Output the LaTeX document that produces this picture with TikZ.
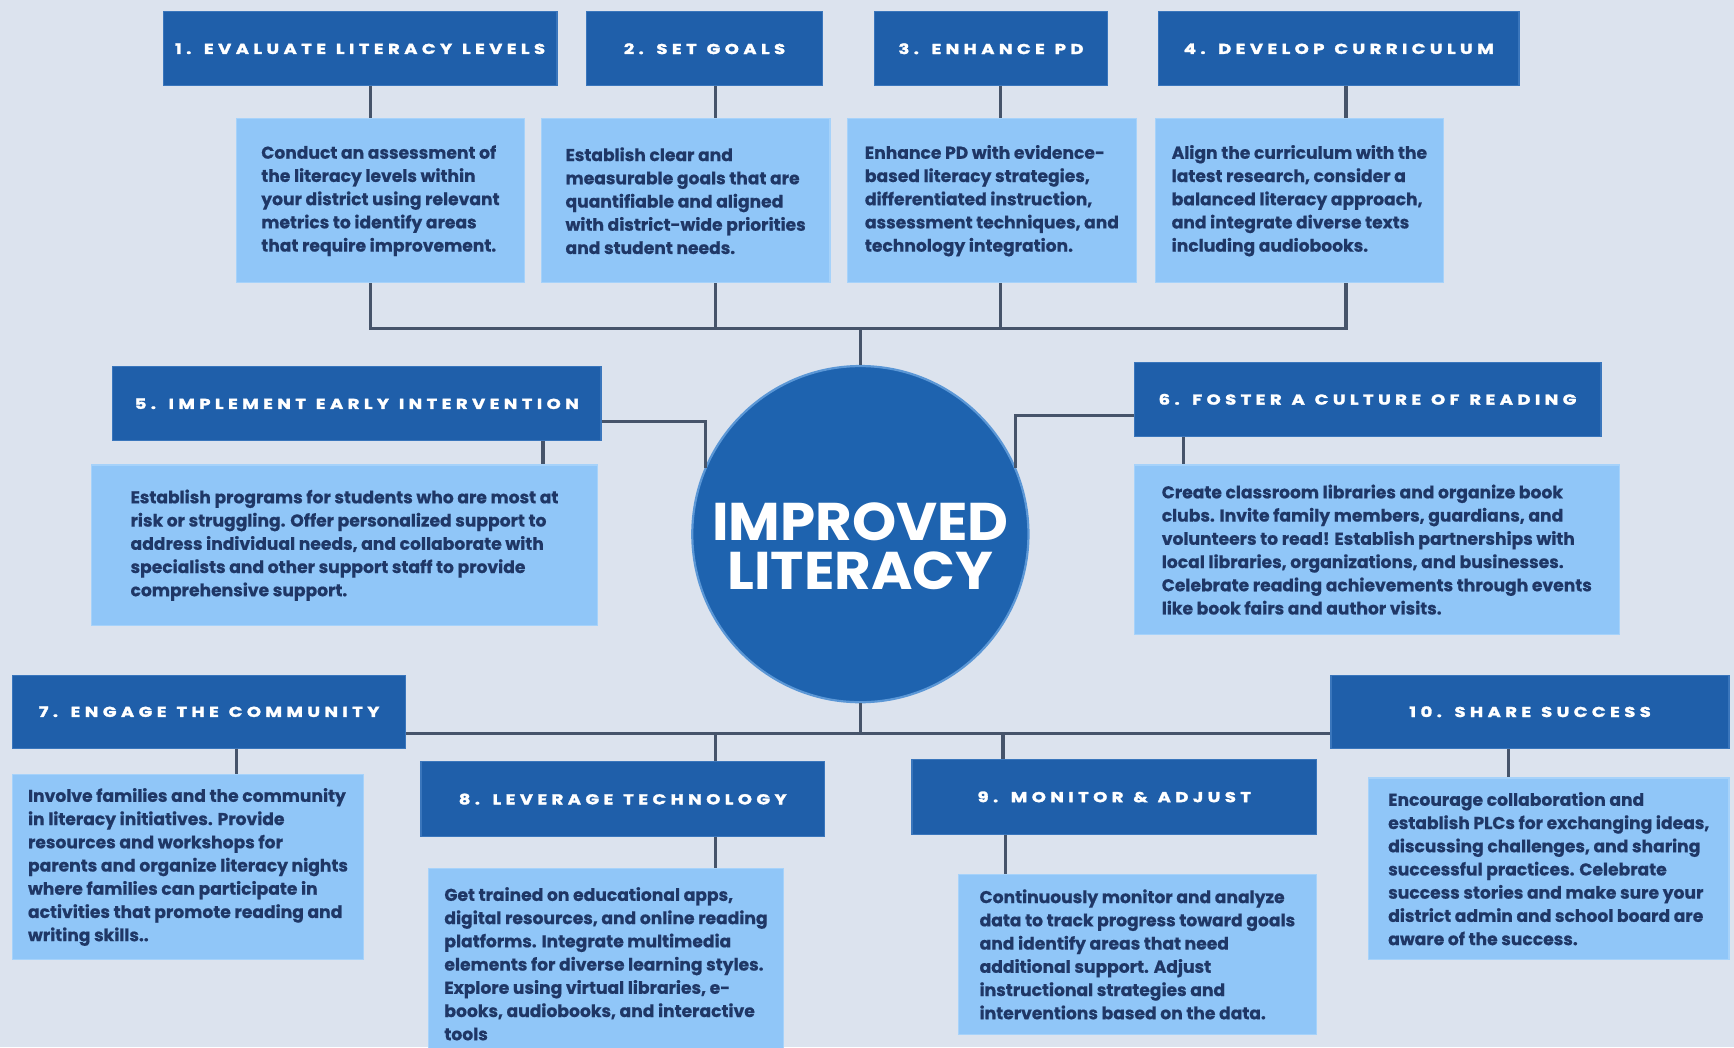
\documentclass[tikz,border=0pt]{standalone}
\usepackage{fontspec}
\setmainfont{Poppins}
\newfontfamily\hdrfont{Poppins}[UprightFont=* Bold, LetterSpace=31, WordSpace=1.2, FakeBold=2, FakeStretch=1.25]
\newfontfamily\bodyfont{Poppins}[UprightFont=* Bold, FakeBold=0.6]
\newfontfamily\circfont{Poppins}[UprightFont=* Bold, FakeStretch=1.06]
\definecolor{bg}{HTML}{DCE3EE}
\definecolor{hdrblue}{HTML}{1F5FAA}
\definecolor{hdredge}{HTML}{3A76BC}
\definecolor{bodyblue}{HTML}{90C6F8}
\definecolor{bodyedge}{HTML}{A6D2FA}
\definecolor{navy}{HTML}{1F3766}
\definecolor{linegray}{HTML}{46546A}
\definecolor{circblue}{HTML}{1E63AF}
\definecolor{circedge}{HTML}{5B97D6}
\begin{document}
\begin{tikzpicture}[x=1pt,y=-1pt,
  hdr/.style={fill=hdrblue, draw=hdredge, line width=1.2pt, anchor=north west, inner sep=0pt,
    text=white, font=\hdrfont\fontsize{13}{16}\selectfont},
  body/.style={fill=bodyblue, draw=bodyedge, line width=1pt, anchor=north west, inner sep=0pt,
    align=left, text=navy, font=\bodyfont\fontsize{15.5}{21}\selectfont},
  link/.style={draw=linegray, line width=3pt}]
\fill[bg] (0,0) rectangle (1568,947);
\useasboundingbox (0,0) rectangle (1568,947);

% centre
\node[circle, fill=circblue, draw=circedge, line width=2pt, minimum size=304pt, inner sep=0pt] (circ) at (778,483) {};
\node[text=white, align=center, font=\circfont\fontsize{48}{45}\selectfont, inner sep=0pt] (circtext) at (778,494) {IMPROVED\\LITERACY};

% top row
\node[hdr, minimum width=356pt, minimum height=67pt] (h1) at (147,10) {1. EVALUATE LITERACY LEVELS};
\node[hdr, minimum width=213pt, minimum height=67pt] (h2) at (530,10) {2. SET GOALS};
\node[hdr, minimum width=211pt, minimum height=67pt] (h3) at (790,10) {3. ENHANCE PD};
\node[hdr, minimum width=326pt, minimum height=67pt] (h4) at (1047,10) {4. DEVELOP CURRICULUM};

\node[body, minimum width=261pt, minimum height=148pt] (b1) at (213,107) {Conduct an assessment of\\the literacy levels within\\your district using relevant\\metrics to identify areas\\that require improvement.};
\node[body, minimum width=261pt, minimum height=148pt] (b2) at (489,107) {Establish clear and\\measurable goals that are\\quantifiable and aligned\\with district-wide priorities\\and student needs.};
\node[body, minimum width=261pt, minimum height=148pt] (b3) at (766,107) {Enhance PD with evidence-\\based literacy strategies,\\differentiated instruction,\\assessment techniques, and\\technology integration.};
\node[body, minimum width=261pt, minimum height=148pt] (b4) at (1044,107) {Align the curriculum with the\\latest research, consider a\\balanced literacy approach,\\and integrate diverse texts\\including audiobooks.};

\coordinate (j1) at (335,297);
\coordinate (j2) at (647,297);
\coordinate (j3) at (905,297);
\coordinate (j4) at (1217,297);
\coordinate (jc) at (778,297);
\draw[link] (h1.south -| j1) -- (b1.north -| j1);
\draw[link] (h2.south -| j2) -- (b2.north -| j2);
\draw[link] (h3.south -| j3) -- (b3.north -| j3);
\draw[link] (h4.south -| j4) -- (b4.north -| j4);
\draw[link] (b1.south -| j1) -- (j1);
\draw[link] (b2.south -| j2) -- (j2);
\draw[link] (b3.south -| j3) -- (j3);
\draw[link] (b4.south -| j4) -- (j4);
\draw[link, line cap=rect] (j1) -- (j4);
\draw[link] (jc) -- (circ.north);

% middle row
\node[hdr, minimum width=442pt, minimum height=67pt] (h5) at (101,331) {5. IMPLEMENT EARLY INTERVENTION};
\node[body, minimum width=458pt, minimum height=145pt] (b5) at (82,420) {Establish programs for students who are most at\\risk or struggling. Offer personalized support to\\address individual needs, and collaborate with\\specialists and other support staff to provide\\comprehensive support.};
\node[hdr, minimum width=422pt, minimum height=67pt] (h6) at (1025,327) {6. FOSTER A CULTURE OF READING};
\node[body, minimum width=439pt, minimum height=153pt] (b6) at (1025,420) {Create classroom libraries and organize book\\clubs. Invite family members, guardians, and\\volunteers to read! Establish partnerships with\\local libraries, organizations, and businesses.\\Celebrate reading achievements through events\\like book fairs and author visits.};

\coordinate (v5) at (491,0);
\coordinate (v6) at (1070,0);
\draw[link] (h5.south -| v5) -- (b5.north -| v5);
\draw[link] (h6.south -| v6) -- (b6.north -| v6);
\coordinate (k5) at (638,381);
\coordinate (k6) at (918,376);
\draw[link] (h5.east |- k5) -- (k5) -- (k5 |- circ.157);
\draw[link] (h6.west |- k6) -- (k6) -- (k6 |- circ.23);

% bottom row
\node[hdr, minimum width=355pt, minimum height=66pt] (h7) at (11,610) {7. ENGAGE THE COMMUNITY};
\node[body, minimum width=317pt, minimum height=167pt] (b7) at (11,700) {Involve families and the community\\in literacy initiatives. Provide\\resources and workshops for\\parents and organize literacy nights\\where families can participate in\\activities that promote reading and\\writing skills..};
\node[hdr, minimum width=365pt, minimum height=68pt] (h8) at (380,688) {8. LEVERAGE TECHNOLOGY};
\node[body, minimum width=321pt, minimum height=172pt] (b8) at (387,785) {Get trained on educational apps,\\digital resources, and online reading\\platforms. Integrate multimedia\\elements for diverse learning styles.\\Explore using virtual libraries, e-\\books, audiobooks, and interactive\\tools};
\node[hdr, minimum width=366pt, minimum height=68pt] (h9) at (824,686) {9. MONITOR \& ADJUST};
\node[body, minimum width=324pt, minimum height=145pt] (b9) at (866,790) {Continuously monitor and analyze\\data to track progress toward goals\\and identify areas that need\\additional support. Adjust\\instructional strategies and\\interventions based on the data.};
\node[hdr, minimum width=360pt, minimum height=66pt] (h10) at (1203,610) {10. SHARE SUCCESS};
\node[body, minimum width=326pt, minimum height=164pt] (b10) at (1237,703) {Encourage collaboration and\\establish PLCs for exchanging ideas,\\discussing challenges, and sharing\\successful practices. Celebrate\\success stories and make sure your\\district admin and school board are\\aware of the success.};

\coordinate (m) at (778,663);
\coordinate (m8) at (647,663);
\coordinate (m9) at (907,663);
\draw[link] (circ.south) -- (m);
\draw[link] (h7.east |- m) -- (h10.west |- m);
\draw[link] (m8) -- (h8.north -| m8);
\draw[link] (m9) -- (h9.north -| m9);
\coordinate (v7) at (214,0);
\coordinate (v8) at (647,0);
\coordinate (v9) at (909,0);
\coordinate (v10) at (1364,0);
\draw[link] (h7.south -| v7) -- (b7.north -| v7);
\draw[link] (h8.south -| v8) -- (b8.north -| v8);
\draw[link] (h9.south -| v9) -- (b9.north -| v9);
\draw[link] (h10.south -| v10) -- (b10.north -| v10);
\end{tikzpicture}
\end{document}
